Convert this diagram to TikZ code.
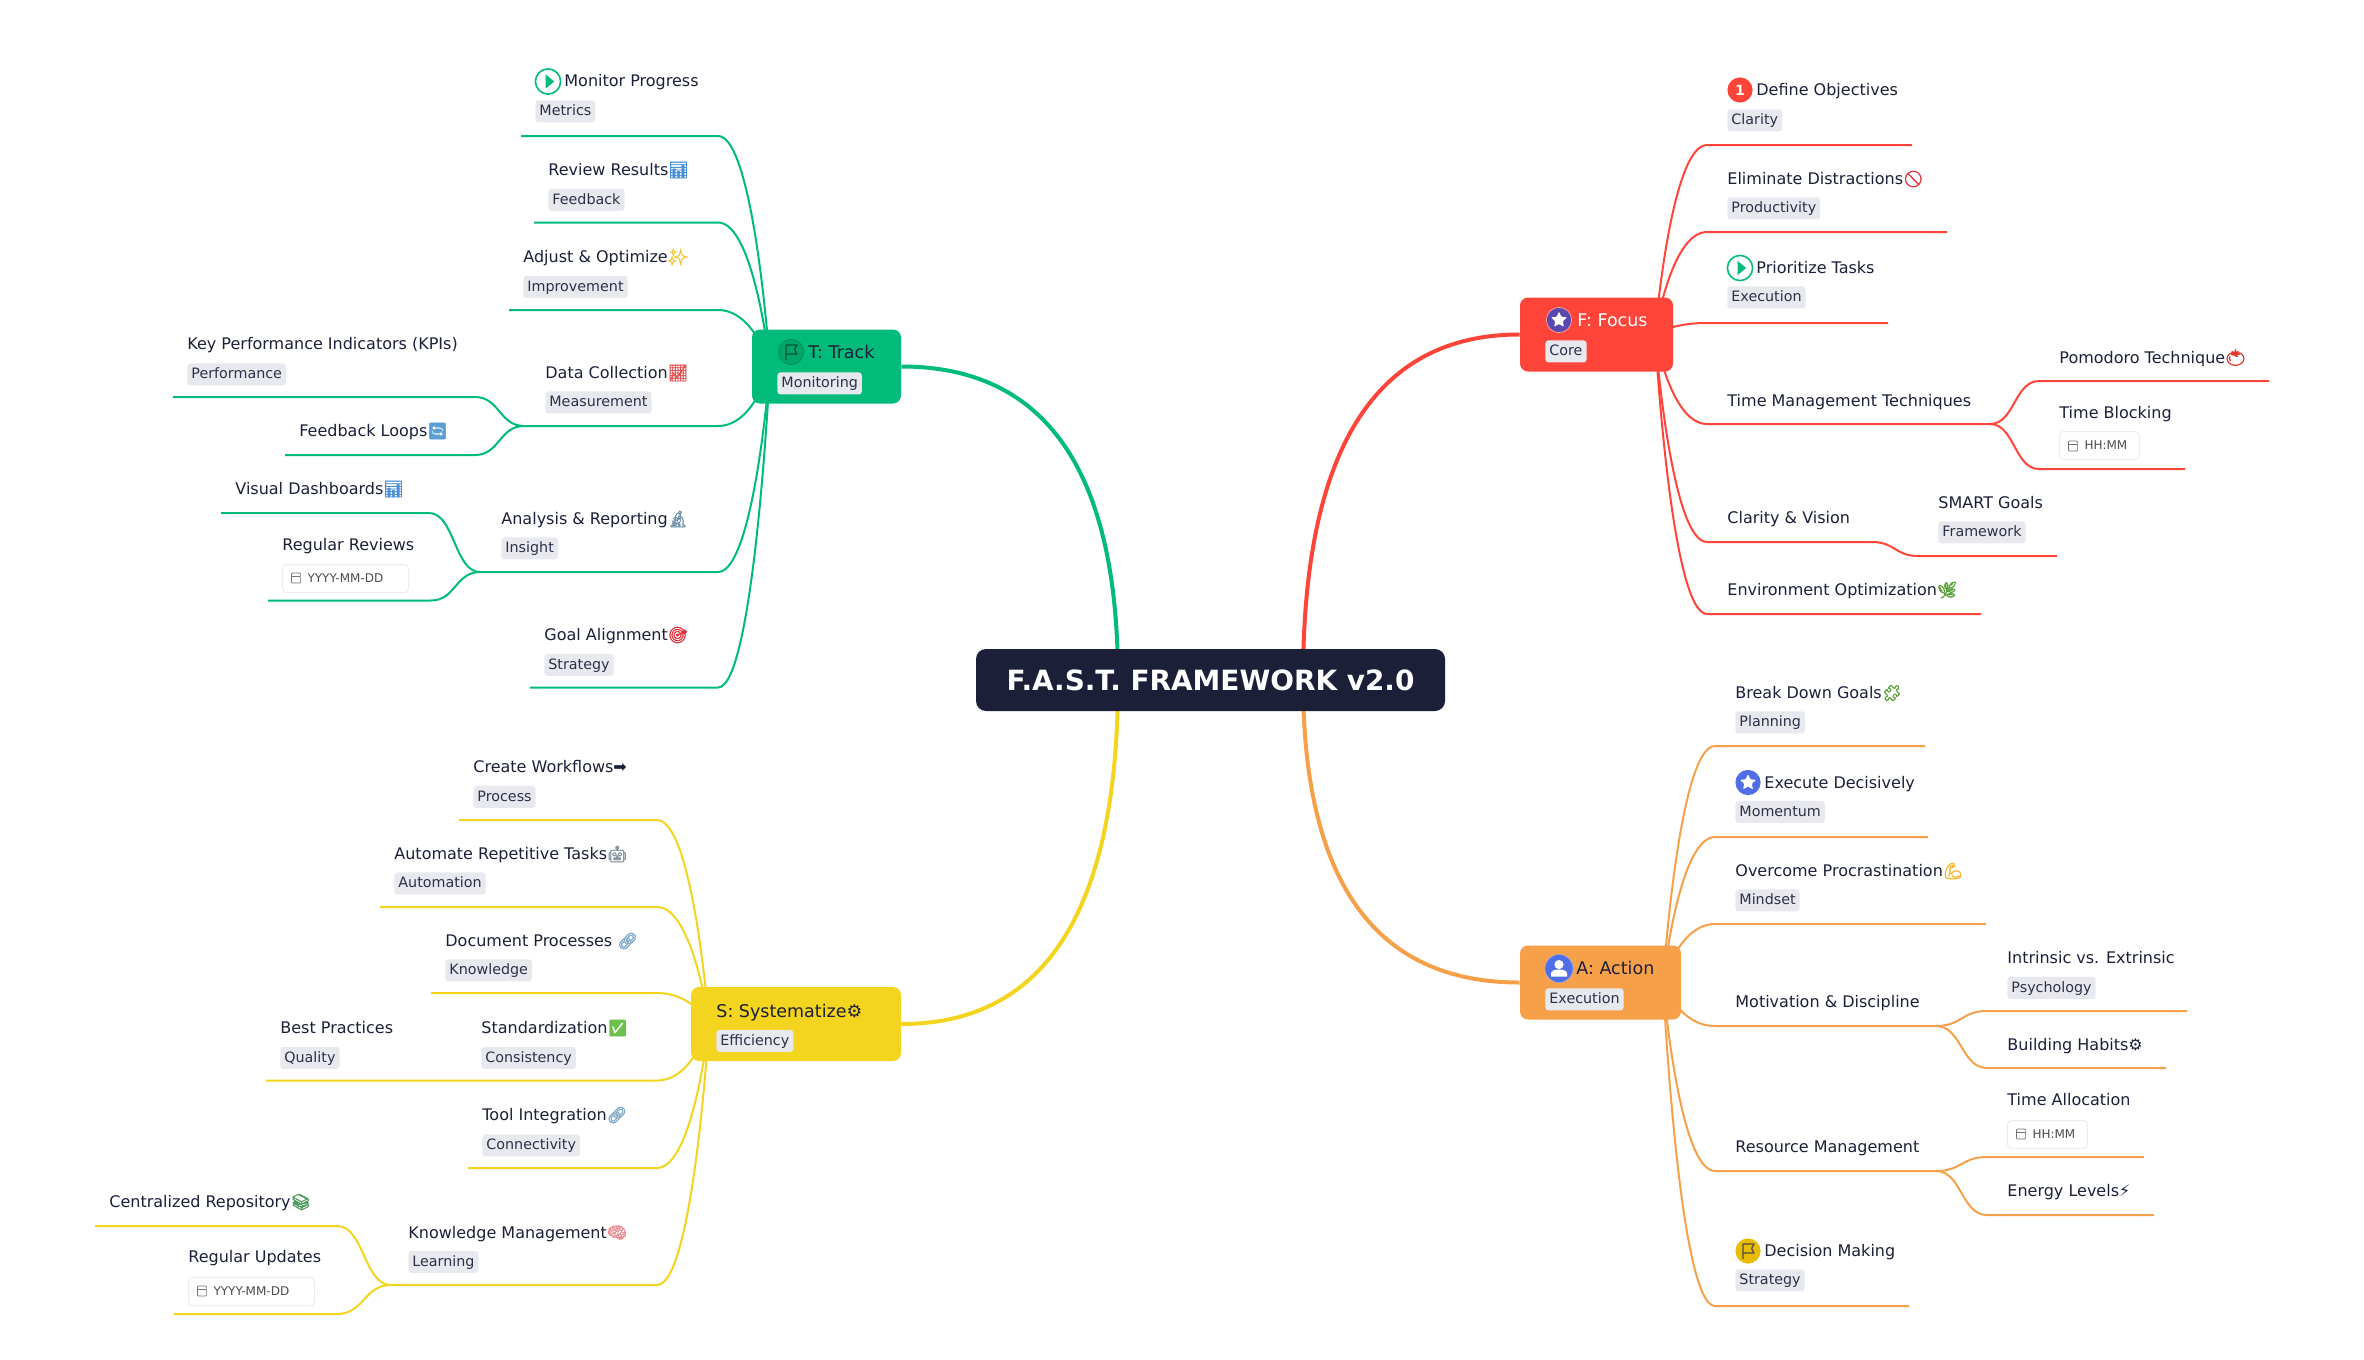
\documentclass[tikz,border=0pt]{standalone}
\usepackage{fontspec}
\setmainfont{DejaVu Sans}
\newfontfamily\emojifont[RawFeature={embolden=2.5}]{Noto Emoji}
\usetikzlibrary{backgrounds,calc,shapes.geometric}
\definecolor{inkdark}{HTML}{1B2038}
\definecolor{tagbg}{HTML}{E8E9EE}
\definecolor{tagink}{HTML}{2D3047}
\definecolor{focusred}{HTML}{FF4539}
\definecolor{trackgreen}{HTML}{00BB79}
\definecolor{actionorange}{HTML}{F7A04A}
\definecolor{systemyellow}{HTML}{F3D41F}
\definecolor{iconblue}{HTML}{4F6EE8}
\definecolor{iconpurple}{HTML}{5A48B0}
\definecolor{iconyellow}{HTML}{E8BC00}
\newcommand{\emo}[2]{{\emojifont\color[HTML]{#1}#2}}
\tikzset{
    rootnode/.style={fill=inkdark,text=white,rounded corners=5pt,minimum width=234.5pt,minimum height=31pt,inner sep=0pt,font=\fontsize{13.95pt}{16pt}\bfseries},
    mainnode/.style={rounded corners=4pt,minimum height=37pt,inner sep=0pt},
    maintext/.style={anchor=west,inner sep=0pt,text=inkdark,font=\fontsize{8.75pt}{10pt}\selectfont,text height=8pt,text depth=2pt},
    leaf/.style={anchor=west,inner sep=0pt,text=inkdark,font=\fontsize{8pt}{10pt}\selectfont,text height=7.5pt,text depth=2pt},
    tag/.style={anchor=north west,fill=tagbg,text=tagink,rounded corners=1.5pt,inner xsep=2pt,inner ysep=0pt,minimum height=11pt,font=\fontsize{7.15pt}{9pt}\selectfont,text height=5.8pt,text depth=1.6pt},
    datetag/.style={anchor=north west,fill=white,draw=black!7,line width=.5pt,rounded corners=2pt,inner xsep=3pt,inner ysep=0pt,minimum height=14pt,text=black!70,text width=#1,font=\fontsize{6pt}{8pt}\selectfont,execute at begin node=\hspace*{9.5pt}},
    dateicon/.style={draw=black!55,line width=.35pt,rounded corners=.5pt,inner sep=0pt,minimum width=4.6pt,minimum height=5pt,path picture={\draw[black!55,line width=.35pt] (path picture bounding box.west) ++(0,1pt) -- ++(5pt,0);}},
    iconball/.style={circle,inner sep=0pt,minimum size=12.6pt},
    startip/.style={star,star points=5,star point ratio=2.1,fill=white,inner sep=0pt,minimum size=8.4pt,rounded corners=.4pt},
    playtip/.style={isosceles triangle,isosceles triangle apex angle=80,fill=trackgreen,inner sep=0pt,minimum height=4.2pt},
    focusmain/.style={focusred,line width=2pt},
    trackmain/.style={trackgreen,line width=2pt},
    actionmain/.style={actionorange,line width=2pt},
    systemmain/.style={systemyellow,line width=2pt},
    focusline/.style={focusred,line width=1pt},
    trackline/.style={trackgreen,line width=1pt},
    actionline/.style={actionorange,line width=1pt},
    systemline/.style={systemyellow,line width=1pt},
}
\newcommand{\Mainline}[3]{\draw[#1] (#2) .. controls ($(#2)!.667!(#2 -| #3)$) and ($(#3)!.667!(#2 -| #3)$) .. (#3);}
\newcommand{\Elbow}[4]{\draw[#1] (#2) .. controls (#2) and ($(#2 |- #3)!.3!(#3)$) .. (#3) -- (#4);}
\newcommand{\Twist}[4]{\draw[#1] (#2) .. controls ($(#2)!.5!(#2 -| #3)$) and ($(#3)!.5!(#3 -| #2)$) .. (#3) -- (#4);}
\newcommand{\FlagIcon}[2]{\draw[#2,line width=.6pt,line join=round,shift={(#1)}] (-5,8) -- (-5,-7) -- (6,-7) -- (3.5,-2.5) -- (6,2) -- (-5,2);}
\newcommand{\UserIcon}[1]{\fill[white,shift={(#1)}] (0,-4) circle[radius=4.6] (-8,8) -- (-8,5) .. controls (-8,2) and (-4,1) .. (0,1) .. controls (4,1) and (8,2) .. (8,5) -- (8,8) -- cycle;}
\begin{document}
\begin{tikzpicture}[x=.5pt,y=-.5pt]
    \useasboundingbox (0,0) rectangle (2364,1359);

    \node[rootnode] (root) at (1210.5,680) {F.A.S.T. FRAMEWORK v2.0};
    \coordinate (root-tl) at (1118,680);
    \coordinate (root-tr) at (1303,680);

    % main topics
    \node[mainnode,fill=focusred,minimum width=76.5pt] (focus) at (1596.5,334.5) {};
    \node[mainnode,fill=trackgreen,minimum width=74.5pt] (track) at (826.5,366.5) {};
    \node[mainnode,fill=actionorange,minimum width=80.5pt] (action) at (1600.5,982.5) {};
    \node[mainnode,fill=systemyellow,minimum width=105pt] (system) at (796,1024) {};
    \coordinate (focus-o) at (1655,334.5);
    \coordinate (track-o) at (770,366.5);
    \coordinate (action-o) at (1663,982.5);
    \coordinate (system-o) at (709,1024);

    \node[iconball,fill=iconpurple,draw=focusred!40!white,line width=.3pt] (focus-icon) at (1559,320) {};
    \node[startip] (focus-star) at (focus-icon) {};
    \node[maintext,text=white] (focus-text) at (1577,320.5) {F: Focus};
    \node[tag] (focus-tag) at (1545,340) {Core};

    \node[iconball,fill=trackgreen!88!black,draw=black!30!trackgreen,line width=.3pt] (track-icon) at (791,352) {};
    \node[maintext] (track-text) at (808,352.5) {T: Track};
    \node[tag] (track-tag) at (777,372) {Monitoring};

    \node[iconball,minimum size=14pt,fill=iconblue,draw=iconblue!60!white,line width=.3pt] (action-icon) at (1559,968.5) {};
    \node[maintext] (action-text) at (1576,968.5) {A: Action};
    \node[tag] (action-tag) at (1545,988) {Execution};

    \node[maintext] (system-text) at (716,1011) {S: Systematize⚙};
    \node[tag] (system-tag) at (716,1029.5) {Efficiency};

    % focus leaves
    \node[iconball,fill=focusred] (objectives-icon) at (1740,90) {\textcolor{white}{\fontsize{7pt}{8pt}\bfseries 1}};
    \node[leaf] (objectives) at (1756,90) {Define Objectives};
    \node[tag] (objectives-tag) at (1727,109) {Clarity};
    \node[leaf] (distractions) at (1727,179) {Eliminate Distractions\emo{E0343D}{🚫}};
    \node[tag] (distractions-tag) at (1727,197) {Productivity};
    \node[iconball,fill=white,draw=trackgreen,line width=.8pt] (prioritize-icon) at (1740,268) {};
    \node[playtip] (prioritize-play) at (1741,268) {};
    \node[leaf] (prioritize) at (1756,268) {Prioritize Tasks};
    \node[tag] (prioritize-tag) at (1727,286) {Execution};
    \node[leaf] (timemgmt) at (1727,401) {Time Management Techniques};
    \node[leaf] (pomodoro) at (2059,357.5) {Pomodoro Technique\emo{E5312A}{🍅}};
    \node[leaf] (timeblock) at (2059,412.5) {Time Blocking};
    \node[datetag=34pt] (timeblock-tag) at (2059,431) {HH:MM};
    \node[dateicon] (timeblock-cal) at (2073,446) {};
    \node[leaf] (vision) at (1727,518) {Clarity \& Vision};
    \node[leaf] (smart) at (1938,503) {SMART Goals};
    \node[tag] (smart-tag) at (1938,521) {Framework};
    \node[leaf] (environment) at (1727,590) {Environment Optimization\emo{5AA33A}{🌿}};

    % action leaves
    \node[leaf] (breakdown) at (1735,693) {Break Down Goals\emo{5AA33A}{🧩}};
    \node[tag] (breakdown-tag) at (1735,711) {Planning};
    \node[iconball,fill=iconblue] (execute-icon) at (1748,782.5) {};
    \node[startip] (execute-star) at (execute-icon) {};
    \node[leaf] (execute) at (1764,782.5) {Execute Decisively};
    \node[tag] (execute-tag) at (1735,800.5) {Momentum};
    \node[leaf] (overcome) at (1735,871) {Overcome Procrastination\emo{F7B52A}{💪}};
    \node[tag] (overcome-tag) at (1735,889) {Mindset};
    \node[leaf] (motivation) at (1735,1002) {Motivation \& Discipline};
    \node[leaf] (intrinsic) at (2007,958) {Intrinsic vs. Extrinsic};
    \node[tag] (intrinsic-tag) at (2007,976.5) {Psychology};
    \node[leaf] (habits) at (2007,1045) {Building Habits⚙};
    \node[leaf] (resource) at (1735,1147) {Resource Management};
    \node[leaf] (allocation) at (2007,1100) {Time Allocation};
    \node[datetag=34pt] (allocation-tag) at (2007,1120) {HH:MM};
    \node[dateicon] (allocation-cal) at (2021,1134) {};
    \node[leaf] (energy) at (2007,1191) {Energy Levels⚡};
    \node[iconball,fill=iconyellow] (decision-icon) at (1748,1251) {};
    \node[leaf] (decision) at (1764,1251) {Decision Making};
    \node[tag] (decision-tag) at (1735,1269) {Strategy};

    % track leaves
    \node[iconball,fill=white,draw=trackgreen,line width=.8pt] (monitor-icon) at (548,81.5) {};
    \node[playtip] (monitor-play) at (549,81.5) {};
    \node[leaf] (monitor) at (564,81.5) {Monitor Progress};
    \node[tag] (monitor-tag) at (535,100) {Metrics};
    \node[leaf] (review) at (548,170) {Review Results\emo{4A90D9}{📊}};
    \node[tag] (review-tag) at (548,188.5) {Feedback};
    \node[leaf] (adjust) at (523,257) {Adjust \& Optimize\emo{F7C93E}{✨}};
    \node[tag] (adjust-tag) at (523,275.5) {Improvement};
    \node[leaf] (datacoll) at (545,373) {Data Collection\emo{E25555}{📈}};
    \node[tag] (datacoll-tag) at (545,391) {Measurement};
    \node[leaf] (kpi) at (187,344) {Key Performance Indicators (KPIs)};
    \node[tag] (kpi-tag) at (187,363) {Performance};
    \node[leaf] (loops) at (299,431) {Feedback Loops\emo{5B9FD6}{🔄}};
    \node[leaf] (analysis) at (501,519) {Analysis \& Reporting\emo{7090A8}{🔬}};
    \node[tag] (analysis-tag) at (501,537) {Insight};
    \node[leaf] (dashboards) at (235,489) {Visual Dashboards\emo{4A90D9}{📊}};
    \node[leaf] (reviews) at (282,544.5) {Regular Reviews};
    \node[datetag=57pt] (reviews-tag) at (282,564) {YYYY-MM-DD};
    \node[dateicon] (reviews-cal) at (296,578) {};
    \node[leaf] (goal) at (544,635) {Goal Alignment\emo{E0343D}{🎯}};
    \node[tag] (goal-tag) at (544,653.5) {Strategy};

    % system leaves
    \node[leaf] (workflows) at (473,767) {Create Workflows➡};
    \node[tag] (workflows-tag) at (473,785.5) {Process};
    \node[leaf] (automate) at (394,854) {Automate Repetitive Tasks\emo{8899A6}{🤖}};
    \node[tag] (automate-tag) at (394,872) {Automation};
    \node[leaf] (document) at (445,941) {Document Processes \emo{7FA8C9}{🔗}};
    \node[tag] (document-tag) at (445,959) {Knowledge};
    \node[leaf] (standard) at (481,1028) {Standardization\emo{6EC04E}{✅}};
    \node[tag] (standard-tag) at (481,1046.5) {Consistency};
    \node[leaf] (practices) at (280,1028) {Best Practices};
    \node[tag] (practices-tag) at (280,1046.5) {Quality};
    \node[leaf] (tools) at (482,1115) {Tool Integration\emo{7FA8C9}{🔗}};
    \node[tag] (tools-tag) at (482,1134) {Connectivity};
    \node[leaf] (knowledge) at (408,1232.5) {Knowledge Management\emo{EC8F95}{🧠}};
    \node[tag] (knowledge-tag) at (408,1250.5) {Learning};
    \node[leaf] (repository) at (109,1202) {Centralized Repository\emo{4F9A5D}{📚}};
    \node[leaf] (updates) at (188,1257) {Regular Updates};
    \node[datetag=57pt] (updates-tag) at (188,1277) {YYYY-MM-DD};
    \node[dateicon] (updates-cal) at (202,1291) {};

    \FlagIcon{track-icon}{black!55!trackgreen}
    \FlagIcon{decision-icon}{black!70}
    \UserIcon{action-icon}

    % underlines, corner then far end
    \coordinate (objectives-a) at (1707,145);     \coordinate (objectives-b) at (1912,145);
    \coordinate (distractions-a) at (1707,232);   \coordinate (distractions-b) at (1947,232);
    \coordinate (prioritize-a) at (1707,323);     \coordinate (prioritize-b) at (1888,323);
    \coordinate (timemgmt-a) at (1707,424);       \coordinate (timemgmt-b) at (1990,424);
    \coordinate (pomodoro-a) at (2039,381);       \coordinate (pomodoro-b) at (2269,381);
    \coordinate (timeblock-a) at (2039,469);      \coordinate (timeblock-b) at (2185,469);
    \coordinate (vision-a) at (1707,542);         \coordinate (vision-b) at (1872,542);
    \coordinate (smart-a) at (1918,556);          \coordinate (smart-b) at (2057,556);
    \coordinate (environment-a) at (1707,614);    \coordinate (environment-b) at (1981,614);

    \coordinate (breakdown-a) at (1715,746);      \coordinate (breakdown-b) at (1925,746);
    \coordinate (execute-a) at (1715,837);        \coordinate (execute-b) at (1928,837);
    \coordinate (overcome-a) at (1715,924);       \coordinate (overcome-b) at (1986,924);
    \coordinate (motivation-a) at (1715,1026);    \coordinate (motivation-b) at (1936,1026);
    \coordinate (intrinsic-a) at (1987,1011);     \coordinate (intrinsic-b) at (2187,1011);
    \coordinate (habits-a) at (1987,1068);        \coordinate (habits-b) at (2166,1068);
    \coordinate (resource-a) at (1715,1171);      \coordinate (resource-b) at (1936,1171);
    \coordinate (allocation-a) at (1987,1157);    \coordinate (allocation-b) at (2144,1157);
    \coordinate (energy-a) at (1987,1215);        \coordinate (energy-b) at (2154,1215);
    \coordinate (decision-a) at (1715,1306);      \coordinate (decision-b) at (1909,1306);

    \coordinate (monitor-a) at (718,136);         \coordinate (monitor-b) at (521,136);
    \coordinate (review-a) at (718,222.5);        \coordinate (review-b) at (534,222.5);
    \coordinate (adjust-a) at (718,310);          \coordinate (adjust-b) at (509,310);
    \coordinate (datacoll-a) at (718,426);        \coordinate (datacoll-b) at (524,426);
    \coordinate (kpi-a) at (475,397);             \coordinate (kpi-b) at (173,397);
    \coordinate (loops-a) at (475,455);           \coordinate (loops-b) at (285,455);
    \coordinate (analysis-a) at (718,572);        \coordinate (analysis-b) at (480,572);
    \coordinate (dashboards-a) at (429,513);      \coordinate (dashboards-b) at (221,513);
    \coordinate (reviews-a) at (431,600.5);       \coordinate (reviews-b) at (268,600.5);
    \coordinate (goal-a) at (718,687.5);          \coordinate (goal-b) at (530,687.5);

    \coordinate (workflows-a) at (657,820);       \coordinate (workflows-b) at (459,820);
    \coordinate (automate-a) at (657,907);        \coordinate (automate-b) at (380,907);
    \coordinate (document-a) at (657,993);        \coordinate (document-b) at (431,993);
    \coordinate (standard-a) at (657,1080.5);     \coordinate (standard-b) at (266,1080.5);
    \coordinate (tools-a) at (657,1168);          \coordinate (tools-b) at (468,1168);
    \coordinate (knowledge-a) at (657,1285);      \coordinate (knowledge-b) at (391,1285);
    \coordinate (repository-a) at (337,1226);     \coordinate (repository-b) at (95,1226);
    \coordinate (updates-a) at (337,1314);        \coordinate (updates-b) at (174,1314);

    \begin{scope}[on background layer]
    \Mainline{focusmain}{focus.west}{root-tr}
    \Mainline{trackmain}{track.east}{root-tl}
    \Mainline{actionmain}{action.west}{root-tr}
    \Mainline{systemmain}{system.east}{root-tl}

    \Elbow{focusline}{focus-o}{objectives-a}{objectives-b}
    \Elbow{focusline}{focus-o}{distractions-a}{distractions-b}
    \Elbow{focusline}{focus-o}{prioritize-a}{prioritize-b}
    \Elbow{focusline}{focus-o}{timemgmt-a}{timemgmt-b}
    \Elbow{focusline}{focus-o}{vision-a}{vision-b}
    \Elbow{focusline}{focus-o}{environment-a}{environment-b}
    \Twist{focusline}{timemgmt-b}{pomodoro-a}{pomodoro-b}
    \Twist{focusline}{timemgmt-b}{timeblock-a}{timeblock-b}
    \Twist{focusline}{vision-b}{smart-a}{smart-b}

    \Elbow{actionline}{action-o}{breakdown-a}{breakdown-b}
    \Elbow{actionline}{action-o}{execute-a}{execute-b}
    \Elbow{actionline}{action-o}{overcome-a}{overcome-b}
    \Elbow{actionline}{action-o}{motivation-a}{motivation-b}
    \Elbow{actionline}{action-o}{resource-a}{resource-b}
    \Elbow{actionline}{action-o}{decision-a}{decision-b}
    \Twist{actionline}{motivation-b}{intrinsic-a}{intrinsic-b}
    \Twist{actionline}{motivation-b}{habits-a}{habits-b}
    \Twist{actionline}{resource-b}{allocation-a}{allocation-b}
    \Twist{actionline}{resource-b}{energy-a}{energy-b}

    \Elbow{trackline}{track-o}{monitor-a}{monitor-b}
    \Elbow{trackline}{track-o}{review-a}{review-b}
    \Elbow{trackline}{track-o}{adjust-a}{adjust-b}
    \Elbow{trackline}{track-o}{datacoll-a}{datacoll-b}
    \Elbow{trackline}{track-o}{analysis-a}{analysis-b}
    \Elbow{trackline}{track-o}{goal-a}{goal-b}
    \Twist{trackline}{datacoll-b}{kpi-a}{kpi-b}
    \Twist{trackline}{datacoll-b}{loops-a}{loops-b}
    \Twist{trackline}{analysis-b}{dashboards-a}{dashboards-b}
    \Twist{trackline}{analysis-b}{reviews-a}{reviews-b}

    \Elbow{systemline}{system-o}{workflows-a}{workflows-b}
    \Elbow{systemline}{system-o}{automate-a}{automate-b}
    \Elbow{systemline}{system-o}{document-a}{document-b}
    \Elbow{systemline}{system-o}{standard-a}{standard-b}
    \Elbow{systemline}{system-o}{tools-a}{tools-b}
    \Elbow{systemline}{system-o}{knowledge-a}{knowledge-b}
    \Twist{systemline}{knowledge-b}{repository-a}{repository-b}
    \Twist{systemline}{knowledge-b}{updates-a}{updates-b}
    \end{scope}
\end{tikzpicture}
\end{document}
